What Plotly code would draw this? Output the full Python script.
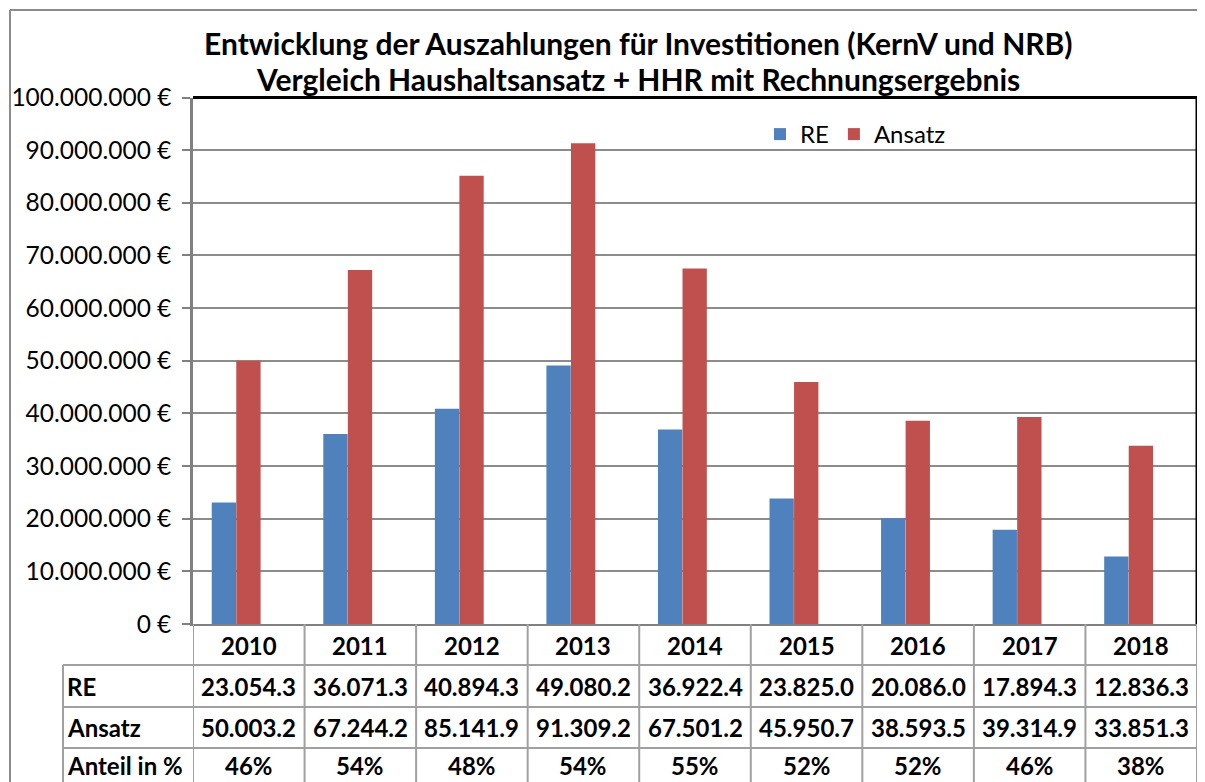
import plotly.graph_objects as go

# ---------------- data ----------------
years = [2010, 2011, 2012, 2013, 2014, 2015, 2016, 2017, 2018]
re_tsd = [23054.3, 36071.3, 40894.3, 49080.2, 36922.4, 23825.0, 20086.0, 17894.3, 12836.3]
ansatz_tsd = [50003.2, 67244.2, 85141.9, 91309.2, 67501.2, 45950.7, 38593.5, 39314.9, 33851.3]
anteil_pct = [46, 54, 48, 54, 55, 52, 52, 46, 38]
row_labels = ["RE", "Ansatz", "Anteil in %"]
series_names = ["RE", "Ansatz"]
y_tick_values = [0, 10000000, 20000000, 30000000, 40000000, 50000000,
                 60000000, 70000000, 80000000, 90000000, 100000000]
title_lines = ["Entwicklung der Auszahlungen für Investitionen (KernV und NRB)",
               "Vergleich Haushaltsansatz + HHR mit Rechnungsergebnis"]

# ---------------- styling ----------------
PAGE_W, PAGE_H = 1205, 782
BODY_MARGIN = 8          # default browser body margin
W, H = PAGE_W - BODY_MARGIN, PAGE_H - BODY_MARGIN
FONT = "Lato"
BLUE = "#4F81BD"
RED = "#C0504D"
GRID = "#8c8c8c"
TABLE_LINE = "#a0a0a0"
AXIS_LINE = "#808080"


def fx(p):
    """page pixel x -> paper fraction"""
    return (p - BODY_MARGIN) / W


def fy(p):
    """page pixel y -> paper fraction"""
    return 1 - (p - BODY_MARGIN) / H


def de_num(v, dec):
    return f"{v:,.{dec}f}".replace(",", ".")


fig = go.Figure()
fig.add_bar(x=years, y=[v * 1000 for v in re_tsd], name=series_names[0],
            marker=dict(color=BLUE, line=dict(width=0)), width=0.218, offset=-0.332)
fig.add_bar(x=years, y=[v * 1000 for v in ansatz_tsd], name=series_names[1],
            marker=dict(color=RED, line=dict(width=0)), width=0.218, offset=-0.112)

PLOT_L, PLOT_R, PLOT_T, PLOT_B = 193, 1197, 97.5, 624

fig.update_layout(
    template="none",
    width=W, height=H, autosize=False,
    margin=dict(l=0, r=0, t=0, b=0, pad=0),
    paper_bgcolor="white", plot_bgcolor="white",
    barmode="overlay",
    showlegend=True,
    legend=dict(orientation="h", x=fx(760), y=fy(112), xanchor="left", yanchor="top",
                font=dict(family=FONT, size=24, color="black"),
                bgcolor="rgba(0,0,0,0)", itemwidth=30),
    font=dict(family=FONT, color="black"),
    xaxis=dict(domain=[fx(PLOT_L), fx(PLOT_R)], range=[years[0] - 0.5, years[-1] + 0.5],
               showticklabels=False, showgrid=False, zeroline=False, ticks="",
               automargin=False,
               showline=True, linecolor=AXIS_LINE, linewidth=2, fixedrange=True),
    yaxis=dict(domain=[fy(PLOT_B), fy(PLOT_T)], range=[0, y_tick_values[-1]],
               tickvals=y_tick_values,
               ticktext=[de_num(v, 0) + " €" for v in y_tick_values],
               tickfont=dict(family=FONT, size=24.5, color="black"),
               showgrid=True, gridcolor=GRID, gridwidth=2, zeroline=False,
               ticks="outside", ticklen=8, tickwidth=2, tickcolor=AXIS_LINE,
               ticklabelstandoff=6, automargin=False,
               showline=True, linecolor=AXIS_LINE, linewidth=2.5, fixedrange=True),
)

shapes = []
# outer chart-area border (top and left)
shapes.append(dict(type="line", xref="paper", yref="paper", x0=fx(10), x1=1, y0=fy(10), y1=fy(10),
                   line=dict(color=GRID, width=2)))
shapes.append(dict(type="line", xref="paper", yref="paper", x0=fx(10), x1=fx(10), y0=0, y1=fy(10),
                   line=dict(color=GRID, width=2)))
# black top/right plot border
shapes.append(dict(type="line", xref="x domain", yref="y domain", x0=0, x1=1, y0=1, y1=1,
                   line=dict(color="black", width=3)))
shapes.append(dict(type="line", xref="x domain", yref="y domain", x0=1, x1=1, y0=0, y1=1,
                   line=dict(color="black", width=3)))

# data table grid
ROW_TOPS = [624, 665, 707, 748]
TABLE_L = 63
for k in range(len(years) + 1):
    xv = years[0] - 0.5 + k
    shapes.append(dict(type="line", xref="x", yref="paper", x0=xv, x1=xv, y0=fy(ROW_TOPS[0]), y1=0,
                       line=dict(color=TABLE_LINE, width=2)))
shapes.append(dict(type="line", xref="paper", yref="paper", x0=fx(TABLE_L), x1=fx(TABLE_L),
                   y0=fy(ROW_TOPS[1]), y1=0, line=dict(color=TABLE_LINE, width=2)))
for ry in ROW_TOPS[1:]:
    shapes.append(dict(type="line", xref="paper", yref="paper", x0=fx(TABLE_L), x1=fx(PLOT_R),
                       y0=fy(ry), y1=fy(ry), line=dict(color=TABLE_LINE, width=2)))

annotations = []
# title
for txt, cy in zip(title_lines, [43, 79]):
    annotations.append(dict(text=f"<b>{txt}</b>", xref="paper", yref="paper", x=fx(638), y=fy(cy),
                            xanchor="center", yanchor="middle", showarrow=False,
                            font=dict(family=FONT, size=30, color="black")))

TF = dict(family=FONT, size=24, color="black")
header_cy = 645
row_cy = [686.5, 727.5, 765]
for i, yr in enumerate(years):
    annotations.append(dict(text=f"<b>{yr}</b>", xref="x", yref="paper", x=yr, y=fy(header_cy),
                            xanchor="center", yanchor="middle", showarrow=False, font=TF))
    cells = [de_num(re_tsd[i], 1), de_num(ansatz_tsd[i], 1), f"{anteil_pct[i]}%"]
    for txt, cy in zip(cells, row_cy):
        annotations.append(dict(text=f"<b>{txt}</b>", xref="x", yref="paper", x=yr, y=fy(cy),
                                xanchor="center", yanchor="middle", showarrow=False, font=TF))
for lab, cy in zip(row_labels, row_cy):
    annotations.append(dict(text=f"<b>{lab}</b>", xref="paper", yref="paper", x=fx(65), y=fy(cy),
                            xanchor="left", yanchor="middle", showarrow=False, font=TF))

fig.update_layout(shapes=shapes, annotations=annotations)
fig.write_html("out.html")
